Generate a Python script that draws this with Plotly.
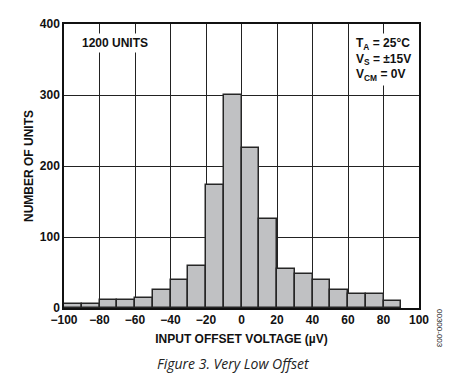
import plotly.graph_objects as go

bin_left = [-100, -90, -80, -70, -60, -50, -40, -30, -20, -10, 0, 10, 20, 30, 40, 50, 60, 70, 80]
counts = [5, 5, 11, 11, 14, 26, 39, 59, 173, 300, 226, 125, 55, 48, 40, 25, 20, 20, 10]
bin_width = 10
x_ticks = [-100, -80, -60, -40, -20, 0, 20, 40, 60, 80, 100]
y_ticks = [0, 100, 200, 300, 400]

centers = [b + bin_width / 2 for b in bin_left]
FONT = "Liberation Sans, Arial, sans-serif"

# page has an 8px body margin, so the figure is 452x370 placed at (8, 8)
W, H = 452, 370
L, R, T, B = 56, 41, 16, 70
PW, PH = W - L - R, H - T - B

fig = go.Figure(go.Bar(
    x=centers, y=counts, width=bin_width,
    marker=dict(color="#c0c1c3", line=dict(color="#262626", width=1.5)),
))

fig.update_layout(
    width=W, height=H,
    margin=dict(l=L, r=R, t=T, b=B, autoexpand=False),
    paper_bgcolor="white", plot_bgcolor="white",
    showlegend=False, bargap=0,
    xaxis=dict(range=[-100, 100], tickvals=x_ticks, showgrid=True,
               gridcolor="#222", gridwidth=1, zeroline=False,
               showline=True, linecolor="#111", linewidth=1.5, mirror=True,
               tickfont=dict(family=FONT, size=12, color="#111", weight="bold"),
               title=dict(text="INPUT OFFSET VOLTAGE (µV)", standoff=8,
                          font=dict(family=FONT, size=12, color="#111", weight="bold"))),
    yaxis=dict(range=[0, 400], tickvals=y_ticks, showgrid=True,
               gridcolor="#222", gridwidth=1, zeroline=False,
               showline=True, linecolor="#111", linewidth=1.5, mirror=True,
               tickfont=dict(family=FONT, size=12, color="#111", weight="bold"),
               title=dict(text="NUMBER OF UNITS", standoff=4,
                          font=dict(family=FONT, size=12, color="#111", weight="bold"))),
)

fig.add_annotation(x=-91.5, y=387, xref="x", yref="y", text="1200 UNITS",
                   showarrow=False, xanchor="left", yanchor="top",
                   bgcolor="white", borderpad=2,
                   font=dict(family=FONT, size=12, color="#111", weight="bold"))
fig.add_annotation(x=97, y=388, xref="x", yref="y",
                   text="T<sub>A</sub> = 25°C<br>V<sub>S</sub> = ±15V<br>V<sub>CM</sub> = 0V",
                   showarrow=False, xanchor="right", yanchor="top", align="left",
                   bgcolor="white", borderpad=2,
                   font=dict(family=FONT, size=12, color="#111", weight="bold"))
fig.add_annotation(x=(432 - L) / PW, y=(T + PH - 320) / PH, xref="paper", yref="paper",
                   text="00300-003", showarrow=False, textangle=90,
                   xanchor="center", yanchor="middle",
                   font=dict(family=FONT, size=8, color="#111"))
fig.add_annotation(x=0.5, y=0, xref="paper", yref="paper",
                   text="<i>Figure 3. Very Low Offset</i>",
                   showarrow=False, xanchor="center", yanchor="middle", yshift=-55, xshift=-8,
                   font=dict(family="Open Sans, sans-serif", size=14, color="#222"))

fig.write_html("out.html")
